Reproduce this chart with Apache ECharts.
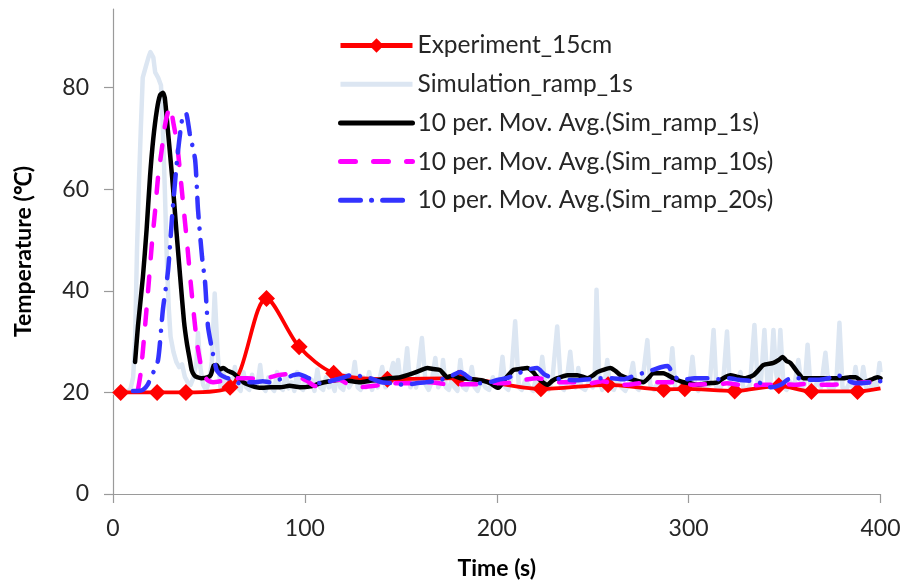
<!DOCTYPE html>
<html>
<head>
<meta charset="utf-8">
<script src="https://cdn.jsdelivr.net/npm/echarts@6/dist/echarts.min.js"></script>
<style>
  html, body { margin: 0; padding: 0; background: #fff; }
  #chart { width: 903px; height: 581px; }
</style>
</head>
<body>
<div id="chart"></div>
<script>
// ---- Data (time in s, temperature in °C) ----
const seriesNames = [
  'Experiment_15cm',
  'Simulation_ramp_1s',
  '10 per. Mov. Avg.(Sim_ramp_1s)',
  '10 per. Mov. Avg.(Sim_ramp_10s)',
  '10 per. Mov. Avg.(Sim_ramp_20s)'
];

const experiment15cm = [
  [4,20],[23,20],[38,20],[61,21],[80,38.5],[97,29],[115,23.8],[143,22.6],[180,22.8],
  [223,20.7],[258,21.5],[287,20.6],[298,20.7],[324,20.3],[347,21.3],[364,20.2],[388,20.2],
  {value:[400,20.8], symbol:'none'}
];

const simRamp1s = [
  [0,20],[6,20],[9,20.5],[10.5,23],[11.5,30],[12.5,48],[13.5,61],[14.5,72],[15.5,82],[17,84],
  [18.5,86],[19.5,87],[21,86],[22,83],[23.5,82],[25,80.5],[26,72],[27,60],[28,47],[29,37],
  [30,31],[31.5,28],[33,26],[34.5,25],[36,25.5],[37.5,23],[39,22],[40.5,21.5],[42,23],[43.5,26],
  [44.3,31.7],[45.5,25],[47,21.5],[48.5,20.5],[50,22],[51.5,26],[53,39.5],[54.5,28],[56,21],[57.5,24],
  [59,20.5],[60.5,22.5],[62,20.3],[63.5,25],[65,21],[66.5,20.3],[68,24],[69.5,21],[71,20.5],[72.5,23.5],
  [74,21],[75.5,22],[76.7,25.4],[78,21],[79.5,20.3],[81,23],[82.5,21],[84,20.3],[85.5,24],[87,21],
  [88.5,20.5],[90,23.5],[91.5,20.8],[93,22],[94.5,20.3],[96,24],[97.5,21],[99,20.5],[100.5,23],[102,21],
  [103.5,22.5],[105,20.3],[106.5,24.5],[108,21],[109.5,20.5],[111,23],[112.5,21],[114,22],[115.5,20.3],[117,24],
  [118.5,21],[120,20.5],[121.5,23.5],[123,21],[124.5,22],[126,26],[127.5,21],[129,20.5],[130.5,23],[132,21],
  [133.5,24],[135,20.5],[136.5,22],[138,21],[140.3,25],[142,21],[143.5,22],[146,25.8],[147.3,22],[148.6,26.4],
  [150,21.5],[151.8,23],[153.3,28.7],[155,21],[156.5,22.5],[158,21],[161,30.7],[163,21.5],[164.5,20.5],[166,22],
  [168,26.8],[169.5,21],[171,22],[172,26.4],[173.5,21],[175,20.5],[176.5,22.5],[178,21],[179.5,20.3],[181,26.4],
  [182.5,21],[184,20.5],[185.5,22],[187,25],[188.5,21],[190,20.3],[192,22.5],[194,21],[196,20.5],[198,23],
  [200,21],[201.5,21.5],[203,27],[204.5,21],[206,20.5],[207.5,23],[209.6,34],[211.5,21],[213,20.5],[215,22.5],
  [217,21],[219,20.3],[220.5,23],[222,21],[223.7,27],[225.5,21],[227,20.5],[229,22.5],[231.5,33],[233.5,21],
  [235,20.5],[236.5,22.5],[238.3,28],[240,21.5],[241,21],[242.5,24.8],[244,21],[246,20.5],[248,22],[250,21],
  [251,22],[252,40.2],[253.5,22],[255,20.5],[256.3,22],[257.6,26.4],[259,21],[261,20.5],[263,22.5],[265,21],
  [267,20.3],[269,22],[271,25.8],[272.5,21],[274,20.5],[276,22.5],[278.5,30.3],[280,21.5],[282,20.5],[284,22],
  [286,21],[288,20.3],[290,22],[291.5,28.7],[293,21],[295,20.5],[297,22],[299,21],[300.5,21.5],[302,27],
  [303.5,21],[305,20.3],[307,22],[309,21],[311,21.5],[313,32.3],[314.5,21],[316,20.5],[318,22],[320,32],
  [321.5,21],[323,20.5],[325,22],[327,24],[328.5,21],[330,20.5],[332,21.5],[334.3,33.3],[336,21.5],[337.5,21],
  [339.5,32.3],[341,22],[342.5,21],[344.2,32.3],[345.5,24],[346.5,22],[347.8,32.3],[349.5,21],[351,20.5],[353,22],
  [355,21],[357.2,26.4],[359,21],[360.5,21.5],[362,29.4],[363.5,21],[365,20.5],[367,22],[369,21],[371.3,27.8],
  [373,21],[375,20.5],[377,22],[378.6,33.7],[380.2,21],[382,20.5],[384,22],[385.5,21],[387,25],[388.5,21],
  [390,22],[391,25],[392.5,21],[394,20.5],[396,22],[398,21],[399.5,25.8],[400,24]
];

const movAvgRamp1s = [
  [11.5,26],[13,33],[15.6,42.8],[17.5,52],[19.3,62.5],[21,70],[22.9,75.7],[24.5,78.5],[26,79],[27,78],
  [28.5,72],[30.8,62.5],[33,52],[35,42.8],[37,34],[38.5,29.7],[40,26.5],[41,24.4],[42.5,23.3],[43.8,23],
  [46,22.8],[49.5,23],[51,23.5],[52.5,25.3],[54,25.4],[55.5,24.5],[57.4,24.8],[60,24.2],[62.6,23.8],[65,23],
  [68,22],[71,21.5],[75,21],[78,20.9],[82,21],[87,21],[92,21.3],[97.5,21],[103,21.2],[108,21.8],
  [113,22.2],[118.4,22.5],[123,22.3],[128.8,22],[134,22.3],[139.2,22.5],[144,22.8],[149.7,23],[156.5,23.8],[160,24.3],
  [163.8,24.8],[167,24.6],[170.5,24.4],[174.2,23],[177,23.3],[181,22.8],[185,22.7],[189.8,22.5],[193,22.3],[196.6,21.8],
  [200.8,20.9],[204,22.5],[208.6,24.4],[212,24.6],[215.9,24.8],[219,24],[221.1,23],[224,22],[226.3,21.5],[229,22.3],
  [231.6,22.8],[236.8,23.4],[242,23.4],[247.2,22.8],[250,23.3],[252.4,24],[256,24.5],[259.2,24.8],[262,24.2],[264.4,23.4],
  [268,22.8],[271.2,22.5],[276.4,22],[279,22.8],[281.6,23.8],[286.8,23.8],[292,22.8],[297.3,22],[301,21.8],[304.6,21.5],
  [310,21.8],[315,22],[318,22.8],[321.8,23.4],[325,23.1],[328.6,22.8],[333.8,23.4],[336,24.2],[339,25.4],[344.2,25.8],
  [347,26.4],[348.9,27],[351,26.2],[353.1,25.8],[356.7,24],[359.8,22.8],[364,22.8],[367.1,22.8],[372,22.8],[375.5,22.8],
  [380.7,22.8],[384,23],[387,23],[391.1,22],[395,22.5],[398.4,23],[400,22.8]
];

const movAvgRamp10s = [
  [13,20.5],[14.5,24],[16.7,33],[18.5,41],[20.3,49.4],[22,56],[23.5,62.5],[25.3,67.5],[27,72.4],[28.5,75],
  [29.7,76.3],[31.5,73],[33.4,69],[36,59.3],[38.6,49.4],[41,39.6],[43.8,29.7],[46.4,24.4],[49,22.5],[52,22],
  [56,22.2],[60,22.5],[64,22.8],[70,22.8],[75,22.7],[80,22.8],[86,23.4],[91,23.6],[96,23.2],[101,22.3],
  [105,21.3],[110,21.2],[113,22.2],[118,22.5],[123,21.5],[128,21],[134,21.2],[140,21.5],[147,21.8],[153,21.8],
  [158,21.8],[164,22],[170,21.8],[176,21.5],[183,21.6],[190,21.6],[196,22],[202,21.8],[209,22],[215,22.5],
  [221,22.8],[226,22.5],[231,22],[237,22],[243,22],[249,21.8],[255,22.2],[258,22],[262,21.5],[268,21.5],
  [274,21.8],[280,22],[286,22],[291,22],[296,21.8],[302,21.5],[308,21.6],[314,21.5],[320,21.8],[326,21.5],
  [332,21.3],[338,21.5],[344,21.5],[350,21.6],[356,21.5],[362,21.7],[368,21.5],[374,21.5],[380,21.6],[386,21.8],
  [392,22],[398,22],[400,22]
];

const movAvgRamp20s = [
  [10.4,20.3],[13,20.3],[15.6,20.5],[18,21.5],[20.5,23.5],[23.5,26.4],[26,36.3],[28.7,44],[30.8,54.6],[33.4,65.8],
  [36,73.7],[38,75],[40,71],[42.8,65.8],[44.3,56],[46.4,46.7],[48,41.6],[49.5,33],[52,27.8],[54,24.4],
  [56,23.5],[58.4,23],[62,22.5],[66,21.8],[70,22],[74,22],[78,22.2],[82,22],[86,22.5],[90,22.8],
  [94,23.4],[97,23.6],[101,23],[108,21.8],[113,22.2],[119,22.8],[125,23.5],[129,23.2],[134,22.8],[140,22],
  [146,21.8],[152,21.5],[158,21.8],[163,22],[170,22.4],[176,23.2],[181,24],[186,22.8],[191,21.8],[196,22],
  [201,22.5],[205,22.8],[210,23.5],[215,24.4],[221,24.8],[225,23.5],[230,22.8],[236,22.5],[242,22.4],[248,22.6],
  [254,22.8],[260,22.8],[266,22.6],[271,23.2],[276,23.8],[281,24.4],[286,25],[289,25.2],[293,23],[297,22.5],
  [303,22.8],[310,22.8],[316,22.6],[321,22.8],[326,22.5],[332,22.3],[338,21.8],[343,21],[348,21.5],[352,22.6],
  [357,22.8],[362,22.5],[368,22.5],[373,22.8],[377,23.5],[381,22.8],[385,22],[390,21.8],[395,22],[400,22.2]
];

const xTicks = [0, 100, 200, 300, 400];
const yTicks = [0, 20, 40, 60, 80];

// ---- Chart ----
const FONT = 'Lato';
const chart = echarts.init(document.getElementById('chart'), null, { renderer: 'canvas' });

const noSym = { opacity: 0 };
const option = {
  animation: false,
  backgroundColor: '#ffffff',
  grid: { left: 113, right: 22.5, top: 9, bottom: 87, containLabel: false, outerBoundsMode: 'none' },
  legend: {
    orient: 'vertical',
    left: 338,
    top: 33,
    padding: 0,
    itemWidth: 72,
    itemHeight: 18,
    itemGap: 13.7,
    lineStyle: { width: 5 },
    data: [
      { name: seriesNames[0] },
      { name: seriesNames[1], itemStyle: noSym },
      { name: seriesNames[2], itemStyle: noSym },
      { name: seriesNames[3], itemStyle: noSym },
      { name: seriesNames[4], itemStyle: noSym }
    ],
    textStyle: { fontFamily: FONT, fontSize: 24.5, color: '#262626' },
    selectedMode: false
  },
  xAxis: {
    type: 'value',
    min: 0, max: 400, interval: 100,
    name: 'Time (s)',
    nameLocation: 'middle',
    nameGap: 63,
    nameTextStyle: { fontFamily: FONT, fontSize: 23, fontWeight: 'bold', color: '#000' },
    axisLine: { show: true, onZero: false, lineStyle: { color: '#9a9a9a', width: 1.2 } },
    axisTick: { show: true, inside: false, length: 9, lineStyle: { color: '#9a9a9a', width: 1.2 }, customValues: xTicks },
    axisLabel: { fontFamily: FONT, fontSize: 23, color: '#262626', margin: 23, customValues: xTicks },
    splitLine: { show: false }
  },
  yAxis: {
    type: 'value',
    min: 0, max: 95.5, interval: 20,
    name: 'Temperature (\u2103)',
    nameLocation: 'middle',
    nameGap: 78,
    nameRotate: 90,
    nameTextStyle: { fontFamily: FONT, fontSize: 23, fontWeight: 'bold', color: '#000' },
    axisLine: { show: true, onZero: false, lineStyle: { color: '#9a9a9a', width: 1.2 } },
    axisTick: { show: true, inside: false, length: 9, lineStyle: { color: '#9a9a9a', width: 1.2 }, customValues: yTicks },
    axisLabel: { fontFamily: FONT, fontSize: 23, color: '#262626', margin: 24, customValues: yTicks },
    splitLine: { show: false }
  },
  series: [
    {
      name: seriesNames[1], type: 'line', data: simRamp1s, showSymbol: false, symbol: 'none',
      lineStyle: { color: '#DCE6F2', width: 4.5, join: 'round' }, itemStyle: { color: '#DCE6F2' }, z: 2
    },
    {
      name: seriesNames[0], type: 'line', data: experiment15cm, smooth: 0.3,
      symbol: 'diamond', symbolSize: 17, showSymbol: true,
      lineStyle: { color: '#FF0000', width: 3.8 }, itemStyle: { color: '#FF0000' }, z: 3
    },
    {
      name: seriesNames[2], type: 'line', data: movAvgRamp1s, symbol: 'none', smooth: 0.2,
      lineStyle: { color: '#000000', width: 4.5, join: 'round', cap: 'round' }, itemStyle: { color: '#000000' }, z: 4
    },
    {
      name: seriesNames[3], type: 'line', data: movAvgRamp10s, symbol: 'none', smooth: 0.2,
      lineStyle: { color: '#FF00FF', width: 4.5, type: [15, 18], cap: 'round' }, itemStyle: { color: '#FF00FF' }, z: 5
    },
    {
      name: seriesNames[4], type: 'line', data: movAvgRamp20s, symbol: 'none', smooth: 0.2,
      lineStyle: { color: '#3333FF', width: 4.5, type: [20, 11, 0.1, 11], cap: 'round' }, itemStyle: { color: '#3333FF' }, z: 6
    }
  ]
};
chart.setOption(option);
</script>
</body>
</html>
